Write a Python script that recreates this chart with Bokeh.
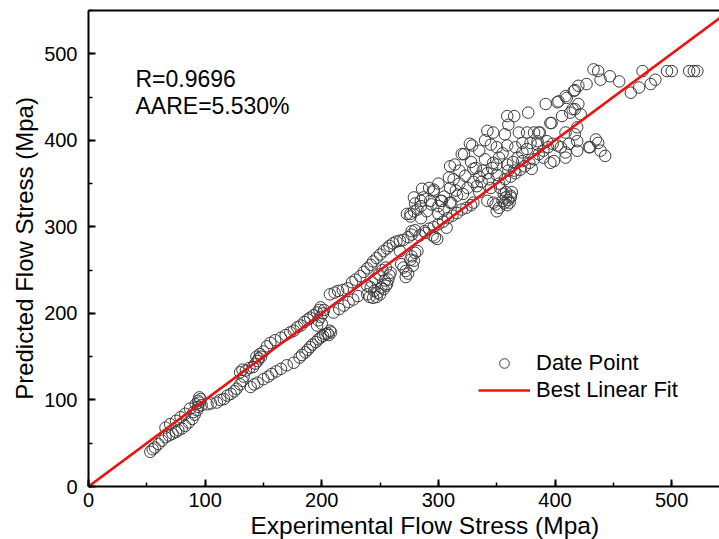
from bokeh.plotting import figure
from bokeh.models import (Range1d, LinearAxis, SingleIntervalTicker, FixedTicker,
                          Legend, LegendItem, Label, Title, ColumnDataSource)
from bokeh.embed import file_html
from bokeh.resources import INLINE

# ---------------- data ----------------
exp_low = [53, 55, 57, 60, 63, 66, 69, 72, 75, 77, 80, 83, 86, 89, 91, 93, 94, 95, 96, 97, 94, 95,
           66, 70, 75, 79, 83, 87, 90, 92]
pred_low = [40, 43, 45, 49, 53, 57, 59, 61, 63, 65, 67, 70, 74, 78, 83, 88, 92, 97, 101, 94, 99, 103,
            68, 72, 76, 80, 84, 90, 86, 95]

exp_b = [102, 105, 110, 113, 116, 119, 122, 125, 127, 130, 132, 133, 130, 132, 135, 138, 141, 143,
         145, 146, 148, 150, 153, 144, 147]
pred_b = [95, 96, 97, 100, 101, 105, 107, 110, 113, 118, 122, 127, 132, 135, 134, 137, 138, 142,
          145, 148, 150, 156, 162, 150, 153]

exp_c = [139, 142, 145, 150, 154, 157, 161, 165, 170, 176, 181, 183, 186, 188, 190, 192, 195, 197,
         199, 201, 203, 205, 207, 208, 206]
pred_c = [115, 118, 120, 124, 127, 130, 133, 136, 140, 143, 149, 152, 155, 158, 161, 164, 167, 170,
          172, 174, 176, 177, 180, 178, 175]

exp_d = [156, 160, 165, 169, 173, 176, 179, 182, 185, 188, 190, 193, 196, 198, 199, 197, 199, 201,
         202, 200, 196]
pred_d = [166, 169, 172, 175, 178, 180, 184, 186, 190, 193, 195, 198, 201, 204, 207, 192, 196, 200,
          204, 188, 186]

exp_e = [207, 211, 214, 218, 222, 226, 229, 233, 236, 239, 242, 244, 247, 250, 253, 256, 258, 261,
         264, 267, 270, 274, 277, 280, 210, 215, 219, 223, 227, 231]
pred_e = [222, 224, 226, 227, 229, 236, 239, 243, 248, 252, 256, 260, 264, 268, 272, 275, 278, 281,
          283, 284, 285, 288, 291, 296, 201, 205, 209, 213, 216, 220]

exp_f = [239, 241, 244, 247, 250, 253, 255, 256, 257, 258, 259, 239, 242, 245, 248, 251, 254, 243,
         246, 249, 252, 255, 268, 270, 272, 272, 274, 276, 277, 279, 280, 282, 278]
pred_f = [222, 219, 218, 219, 222, 228, 232, 234, 239, 244, 247, 232, 230, 226, 224, 230, 238, 236,
          240, 245, 250, 253, 257, 253, 249, 242, 246, 262, 266, 261, 270, 272, 255]

exp_h = [273, 276, 279, 282, 285, 279, 286, 287, 296, 296, 303, 300, 300, 307, 297, 289, 295, 299,
         310, 311, 316, 321, 330, 342, 349, 363, 362, 357, 305,
         284, 288, 292, 296, 300, 304, 308, 312, 316, 320, 324, 328,
         305, 310, 315, 318, 325, 330, 335, 338, 342, 346, 350, 352, 355, 350, 345, 340, 335, 328,
         318, 314, 300, 292, 285, 280, 290, 294, 276, 285, 302, 293, 277, 267]
pred_h = [315, 312, 318, 320, 324, 334, 344, 334, 343, 341, 330, 315, 324, 299, 288, 293, 290, 286,
          328, 328, 336, 338, 328, 330, 326, 340, 334, 328, 320,
          290, 295, 298, 300, 303, 306, 310, 313, 316, 320, 322, 325,
          335, 345, 342, 350, 345, 352, 358, 365, 362, 368, 372, 380, 385, 392, 395, 400, 388, 375,
          365, 372, 350, 345, 330, 327, 318, 326, 315, 310, 330, 330, 295, 272]

exp_i = [310, 309, 313, 320, 322, 327, 329, 323, 332, 330, 333, 342, 347, 340, 347, 343, 337, 350,
         345, 335,
         347, 350, 352, 355, 356, 358, 360, 361, 362, 358, 353, 359]
pred_i = [370, 357, 355, 384, 384, 396, 394, 359, 368, 367, 347, 411, 409, 378, 374, 355, 352, 360,
          345, 340,
          328, 318, 322, 330, 338, 334, 331, 328, 336, 340, 345, 325]

exp_k = [359, 365, 360, 357, 359, 366, 359, 365, 369, 376, 382, 386, 372, 379, 385, 372, 380, 377,
         392, 402, 409, 416, 420, 396, 406, 415, 393, 402, 412, 399, 409, 419, 419, 422, 403, 410,
         417, 427, 413, 417, 420, 397, 387, 417, 409, 405, 419, 429, 435, 437, 439, 443, 390, 396,
         409, 430,
         352, 357, 362, 366, 370, 374, 378, 382, 386, 390, 394, 398, 368, 372, 376, 385, 360, 364]
pred_k = [428, 428, 418, 407, 394, 392, 372, 365, 409, 409, 409, 409, 397, 397, 399, 376, 367, 432,
          442, 444, 451, 457, 463, 420, 428, 436, 399, 394, 396, 376, 386, 399, 415, 430, 445, 449,
          458, 465, 432, 436, 442, 420, 409, 407, 409, 392, 388, 392, 401, 397, 388, 382, 380, 374,
          380, 392,
          350, 355, 358, 362, 366, 370, 374, 378, 384, 388, 392, 396, 380, 386, 390, 395, 365, 375]

exp_top = [433, 437, 439, 447, 455, 475, 465, 472, 482, 486, 496, 500, 515, 519, 522]
pred_top = [482, 480, 470, 474, 468, 480, 455, 461, 465, 470, 480, 480, 480, 480, 480]

experimental = exp_low + exp_b + exp_c + exp_d + exp_e + exp_f + exp_h + exp_i + exp_k + exp_top
predicted = pred_low + pred_b + pred_c + pred_d + pred_e + pred_f + pred_h + pred_i + pred_k + pred_top

fit_slope = 1.0
fit_intercept = 0.0
fit_x = [0, 560]
fit_y = [fit_slope * v + fit_intercept for v in fit_x]

x_label = "Experimental Flow Stress (Mpa)"
y_label = "Predicted Flow Stress (Mpa)"
r_text = "R=0.9696"
aare_text = "AARE=5.530%"
legend_points = "Date Point"
legend_fit = "Best Linear Fit"

FONT = "Liberation Sans"

# ---------------- figure ----------------
p = figure(width=719, height=539, output_backend="svg", toolbar_location=None,
           x_range=Range1d(0, 541), y_range=Range1d(0, 550),
           min_border_left=88, min_border_right=0, min_border_top=10, min_border_bottom=53,
           background_fill_color="white", border_fill_color="white")
p.outline_line_color = None
p.grid.visible = False

src = ColumnDataSource(dict(x=experimental, y=predicted))
pts = p.scatter("x", "y", source=src, marker="circle", size=11.5, fill_color=None,
                line_color="#3c3c3c", line_width=1.0)
fit = p.line(fit_x, fit_y, line_color="#ee1111", line_width=2.6)

for ax in (p.xaxis[0], p.yaxis[0]):
    ax.ticker = SingleIntervalTicker(interval=100, num_minor_ticks=2)
    ax.axis_line_width = 2
    ax.axis_line_color = "black"
    ax.major_tick_line_width = 2
    ax.minor_tick_line_width = 1.5
    ax.major_tick_in = 7
    ax.major_tick_out = 0
    ax.minor_tick_in = 4
    ax.minor_tick_out = 0
    ax.major_label_text_font = FONT
    ax.major_label_text_font_size = "20px"
    ax.major_label_text_color = "black"
    ax.axis_label_text_font = FONT
    ax.axis_label_text_font_size = "24px"
    ax.axis_label_text_font_style = "normal"
    ax.axis_label_text_color = "black"

p.xaxis[0].major_label_standoff = 6
p.yaxis[0].axis_label = y_label
p.yaxis[0].major_label_standoff = 11
p.yaxis[0].axis_label_standoff = 3

# x-axis title, left-aligned and offset as in the reference (its frame runs past the crop)
p.add_layout(Title(text=x_label, align="left", offset=162, standoff=0,
                   vertical_align="bottom", text_font=FONT, text_font_size="24.5px",
                   text_font_style="normal", text_color="black"), "below")

top = LinearAxis(ticker=FixedTicker(ticks=[]), major_label_text_font_size="0px",
                 axis_line_width=2, axis_line_color="black",
                 major_tick_line_color=None, minor_tick_line_color=None,
                 major_label_standoff=0)
p.add_layout(top, "above")

p.add_layout(Label(x=47, y=408, x_units="screen", y_units="screen", text=r_text,
                   text_font=FONT, text_font_size="23px", text_color="black",
                   text_baseline="alphabetic"))
p.add_layout(Label(x=47, y=381, x_units="screen", y_units="screen", text=aare_text,
                   text_font=FONT, text_font_size="23px", text_color="black",
                   text_baseline="alphabetic"))

legend = Legend(items=[LegendItem(label=legend_points, renderers=[pts]),
                       LegendItem(label=legend_fit, renderers=[fit])],
                location=(390, 83), orientation="vertical",
                glyph_width=52, glyph_height=24, label_height=24, label_standoff=6,
                spacing=1, padding=0, margin=0,
                label_text_font=FONT, label_text_font_size="22px", label_text_color="black",
                border_line_color=None, background_fill_alpha=0)
p.add_layout(legend, "center")

open("out.html", "w").write(file_html(p, INLINE))
